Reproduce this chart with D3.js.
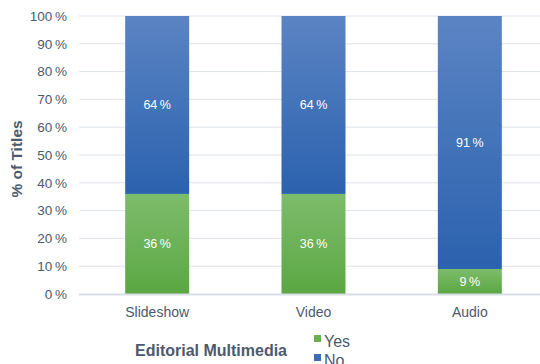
<!DOCTYPE html>
<html><head><meta charset="utf-8">
<script src="https://cdn.jsdelivr.net/npm/d3@7"></script>
<style>body{margin:0;background:#fff}svg{display:block;font-family:"Liberation Sans",Arial,sans-serif}</style>
</head><body>
<svg id="c" width="540" height="364"></svg>
<script>
const categories = ["Slideshow", "Video", "Audio"];
const yesValues = [36, 36, 9];
const noValues = [64, 64, 91];
const yTicks = [0, 10, 20, 30, 40, 50, 60, 70, 80, 90, 100];
const seriesNames = ["Yes", "No"];

const svg = d3.select("#c");
const defs = svg.append("defs");
function grad(id, c1, c2) {
  const g = defs.append("linearGradient").attr("id", id).attr("x1", 0).attr("y1", 0).attr("x2", 0).attr("y2", 1);
  g.append("stop").attr("offset", "0%").attr("stop-color", c1);
  g.append("stop").attr("offset", "100%").attr("stop-color", c2);
}
grad("gNo", "#5b84c4", "#2b62ae");
grad("gYes", "#7dbc6b", "#5ba743");

const x = d3.scaleBand().domain(categories).range([79, 548]).padding(0);
const y = d3.scaleLinear().domain([0, 100]).range([294, 16]);
const bw = 64;
const textCol = "#4b5a6e";

svg.append("g").selectAll("line").data(yTicks.filter(d => d > 0)).join("line")
  .attr("x1", 79).attr("x2", 540).attr("y1", d => y(d)).attr("y2", d => y(d))
  .attr("stroke", "#dde3ea").attr("stroke-width", 1);

svg.append("g").selectAll("text").data(yTicks).join("text")
  .attr("x", 67).attr("y", d => y(d)).attr("dy", "0.35em").attr("text-anchor", "end")
  .attr("font-size", 13.5).attr("fill", textCol).text(d => d + "\u2009%");

const stack = categories.map((c, i) => ({c, yes: yesValues[i], no: noValues[i]}));
const g = svg.append("g");
g.selectAll("rect.yes").data(stack).join("rect").attr("class", "yes")
  .attr("x", d => x(d.c) + x.bandwidth() / 2 - bw / 2).attr("width", bw)
  .attr("y", d => y(d.yes)).attr("height", d => y(0) - y(d.yes)).attr("fill", "url(#gYes)");
g.selectAll("rect.no").data(stack).join("rect").attr("class", "no")
  .attr("x", d => x(d.c) + x.bandwidth() / 2 - bw / 2).attr("width", bw)
  .attr("y", d => y(d.yes + d.no)).attr("height", d => y(d.yes) - y(d.yes + d.no)).attr("fill", "url(#gNo)");

svg.append("line").attr("x1", 79).attr("x2", 540).attr("y1", y(0) + 0.5).attr("y2", y(0) + 0.5)
  .attr("stroke", "#d8dee5").attr("stroke-width", 2);

g.selectAll("text.yl").data(stack).join("text")
  .attr("x", d => x(d.c) + x.bandwidth() / 2).attr("y", d => y(d.yes / 2)).attr("dy", "0.35em")
  .attr("text-anchor", "middle").attr("font-size", 12.5).attr("fill", "#fff").text(d => d.yes + "\u2009%");
g.selectAll("text.nl").data(stack).join("text")
  .attr("x", d => x(d.c) + x.bandwidth() / 2).attr("y", d => y(d.yes + d.no / 2)).attr("dy", "0.35em")
  .attr("text-anchor", "middle").attr("font-size", 12.5).attr("fill", "#fff").text(d => d.no + "\u2009%");

svg.append("g").selectAll("text").data(categories).join("text")
  .attr("x", d => x(d) + x.bandwidth() / 2).attr("y", 312).attr("dy", "0.35em")
  .attr("text-anchor", "middle").attr("font-size", 14).attr("fill", textCol).text(d => d);

svg.append("text").attr("transform", "translate(22,159) rotate(-90)").attr("text-anchor", "middle")
  .attr("font-size", 15.5).attr("font-weight", "bold").attr("fill", textCol).text("% of Titles");
svg.append("text").attr("x", 211).attr("y", 356).attr("text-anchor", "middle")
  .attr("font-size", 16).attr("font-weight", "bold").attr("fill", textCol).text("Editorial Multimedia");

const legColors = ["#6ab04f", "#3a6db5"];
const leg = svg.append("g").selectAll("g").data(seriesNames).join("g")
  .attr("transform", (d, i) => `translate(314,${335 + i * 19})`);
leg.append("rect").attr("width", 7).attr("height", 7).attr("fill", (d, i) => legColors[i]);
leg.append("text").attr("x", 10).attr("y", 12).attr("font-size", 16)
  .attr("fill", textCol).text(d => d);
</script>
</body></html>
